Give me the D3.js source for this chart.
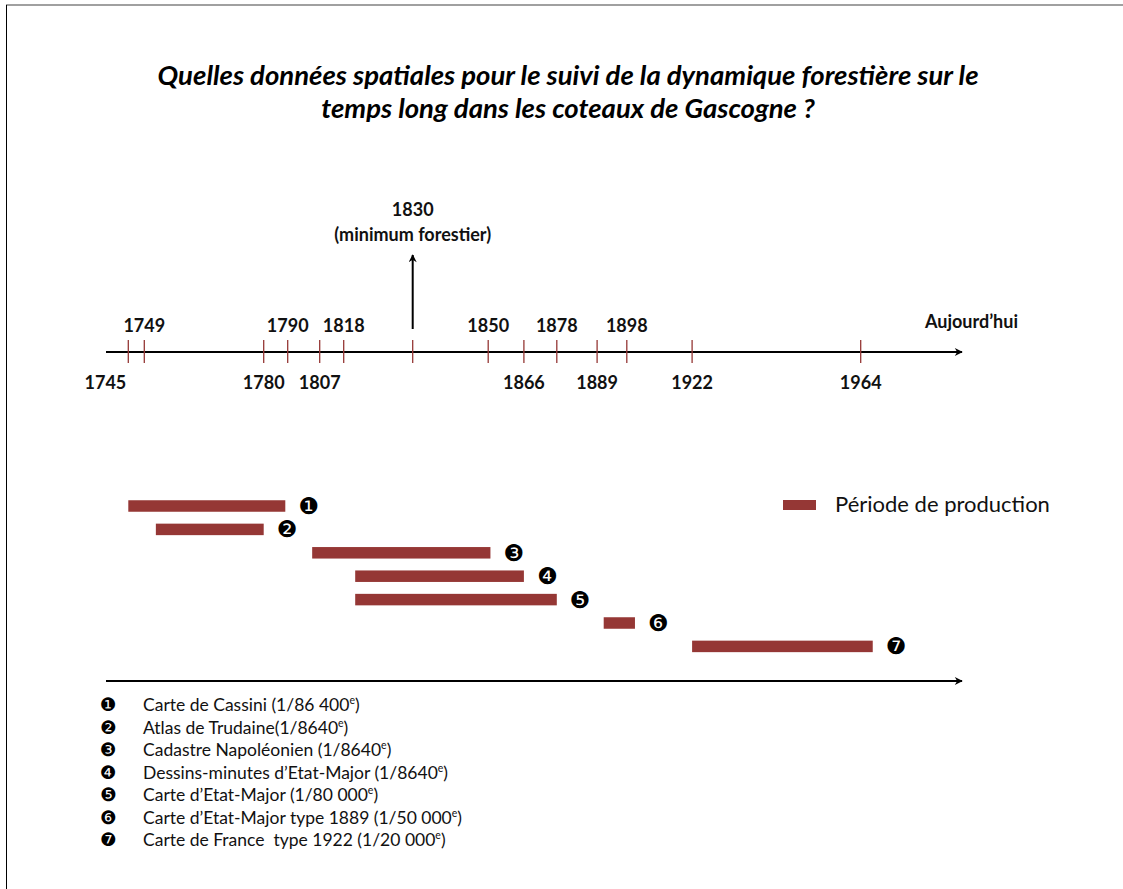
<!DOCTYPE html>
<html>
<head>
<meta charset="utf-8">
<script src="https://cdn.jsdelivr.net/npm/d3@7"></script>
<style>
  body { margin: 0; background: #fff; }
  svg { display: block; font-family: Lato, "Open Sans", sans-serif; }
  .yr { font-weight: bold; font-size: 18px; fill: #111; }
  .num { font-family: "DejaVu Sans", sans-serif; fill: #000; }
</style>
</head>
<body>
<svg id="chart"></svg>
<script>
// timeline ticks (years marked on the axis)
const tickYears = [1745, 1749, 1780, 1790, 1807, 1818, 1830, 1850, 1866, 1878, 1889, 1898, 1922, 1964];
const upperLabels = [1749, 1790, 1818, 1850, 1878, 1898];
const lowerLabels = [1745, 1780, 1807, 1866, 1889, 1922, 1964];
const keyYear = 1830;

// map series: production periods
const mapNums = ['❶', '❷', '❸', '❹', '❺', '❻', '❼'];
const mapStart = [1745, 1752, 1803, 1820, 1820, 1891, 1922];
const mapEnd = [1789, 1780, 1851, 1866, 1878, 1901, 1967];
const mapNames = [
  ['Carte de Cassini (1/86 400', ')'],
  ['Atlas de Trudaine(1/8640', ')'],
  ['Cadastre Napoléonien (1/8640', ')'],
  ['Dessins-minutes d’Etat-Major (1/8640', ')'],
  ['Carte d’Etat-Major (1/80 000', ')'],
  ['Carte d’Etat-Major type 1889 (1/50 000', ')'],
  ['Carte de France  type 1922 (1/20 000', ')']
];

const W = 1123, H = 889;
const RED = '#953735';

const svg = d3.select('#chart').attr('width', W).attr('height', H);

// the source axis is hand spaced, so the scale is piecewise linear
const x = d3.scaleLinear()
  .domain(tickYears)
  .range([128.3, 144.3, 263.7, 287.7, 319.7, 343.7, 412.7, 488.2, 523.9, 556.8, 597.1, 626.8, 692.1, 860.7]);

const defs = svg.append('defs');
defs.append('marker')
  .attr('id', 'head')
  .attr('viewBox', '0 0 10 10')
  .attr('refX', 9).attr('refY', 5)
  .attr('markerWidth', 10).attr('markerHeight', 8)
  .attr('markerUnits', 'userSpaceOnUse')
  .attr('orient', 'auto')
  .append('path').attr('d', 'M0,0 L10,5 L0,10 L3,5 Z').attr('fill', '#000');

// slide frame
svg.append('line').attr('x1', 6).attr('x2', W).attr('y1', 5).attr('y2', 5)
  .attr('stroke', '#808080').attr('stroke-width', 1.5);
svg.append('line').attr('x1', 6.5).attr('x2', 6.5).attr('y1', 5).attr('y2', H)
  .attr('stroke', '#000').attr('stroke-width', 1);

// title
const title = svg.append('text')
  .attr('text-anchor', 'middle')
  .attr('font-weight', 'bold').attr('font-style', 'italic')
  .attr('font-size', 27.5).attr('fill', '#000');
title.append('tspan').attr('x', 568).attr('y', 85)
  .text('Quelles données spatiales pour le suivi de la dynamique forestière sur le');
title.append('tspan').attr('x', 568).attr('y', 118)
  .text('temps long dans les coteaux de Gascogne ?');

// main axis
const axisY = 352;
svg.append('line')
  .attr('x1', 106).attr('x2', 962).attr('y1', axisY).attr('y2', axisY)
  .attr('stroke', '#000').attr('stroke-width', 2)
  .attr('marker-end', 'url(#head)');

svg.selectAll('.tick')
  .data(tickYears)
  .enter().append('line')
  .attr('class', 'tick')
  .attr('x1', d => x(d)).attr('x2', d => x(d))
  .attr('y1', axisY - 12).attr('y2', axisY + 11)
  .attr('stroke', RED).attr('stroke-width', 1.3);

svg.selectAll('.up')
  .data(upperLabels)
  .enter().append('text')
  .attr('class', 'yr up')
  .attr('x', d => x(d)).attr('y', 332)
  .attr('text-anchor', 'middle')
  .text(d => d);

svg.selectAll('.low')
  .data(lowerLabels)
  .enter().append('text')
  .attr('class', 'yr low')
  .attr('x', (d, i) => i === 0 ? x(d) - 2 : x(d))
  .attr('y', 389)
  .attr('text-anchor', (d, i) => i === 0 ? 'end' : 'middle')
  .text(d => d);

svg.append('text').attr('class', 'yr')
  .attr('x', 1018).attr('y', 328).attr('text-anchor', 'end')
  .text('Aujourd’hui');

// 1830 forest minimum marker
svg.append('line')
  .attr('x1', x(keyYear)).attr('x2', x(keyYear))
  .attr('y1', 329).attr('y2', 255)
  .attr('stroke', '#000').attr('stroke-width', 2)
  .attr('marker-end', 'url(#head)');
svg.append('text').attr('class', 'yr')
  .attr('x', x(keyYear)).attr('y', 216).attr('text-anchor', 'middle')
  .text(keyYear);
svg.append('text').attr('class', 'yr')
  .attr('x', x(keyYear)).attr('y', 241).attr('text-anchor', 'middle')
  .attr('font-size', 19.5)
  .text('(minimum forestier)');

// production bars
const rows = d3.scalePoint().domain(d3.range(mapNums.length)).range([506, 646.4]);
const barH = 11.5;

svg.selectAll('.bar')
  .data(mapStart)
  .enter().append('rect')
  .attr('class', 'bar')
  .attr('x', d => x(d))
  .attr('y', (d, i) => rows(i) - barH / 2)
  .attr('width', (d, i) => x(mapEnd[i]) - x(d))
  .attr('height', barH)
  .attr('fill', RED);

svg.selectAll('.barnum')
  .data(mapNums)
  .enter().append('text')
  .attr('class', 'num barnum')
  .attr('x', (d, i) => x(mapEnd[i]) + 13)
  .attr('y', (d, i) => rows(i) + 8)
  .attr('font-size', 23)
  .text(d => d);

// legend
svg.append('rect').attr('x', 783).attr('y', 500).attr('width', 33).attr('height', 10).attr('fill', RED);
svg.append('text').attr('x', 835).attr('y', 512)
  .attr('font-size', 22).attr('fill', '#111')
  .text('Période de production');

// second axis
svg.append('line')
  .attr('x1', 106).attr('x2', 962).attr('y1', 681).attr('y2', 681)
  .attr('stroke', '#000').attr('stroke-width', 2)
  .attr('marker-end', 'url(#head)');

// key of the maps
const listY = d3.scalePoint().domain(d3.range(mapNames.length)).range([711, 846]);

const items = svg.selectAll('.item')
  .data(mapNames)
  .enter().append('g')
  .attr('class', 'item')
  .attr('transform', (d, i) => `translate(0,${listY(i)})`);

items.append('text')
  .attr('class', 'num')
  .attr('x', 100).attr('y', 0)
  .attr('font-size', 18.5)
  .text((d, i) => mapNums[i]);

const lbl = items.append('text')
  .attr('x', 143).attr('y', 0)
  .attr('font-size', 17.5).attr('fill', '#111')
  .style('white-space', 'pre');
lbl.append('tspan').text(d => d[0]);
lbl.append('tspan').attr('font-size', 10.5).attr('dy', -7).text('e');
lbl.append('tspan').attr('dy', 7).text(d => d[1]);
</script>
</body>
</html>
